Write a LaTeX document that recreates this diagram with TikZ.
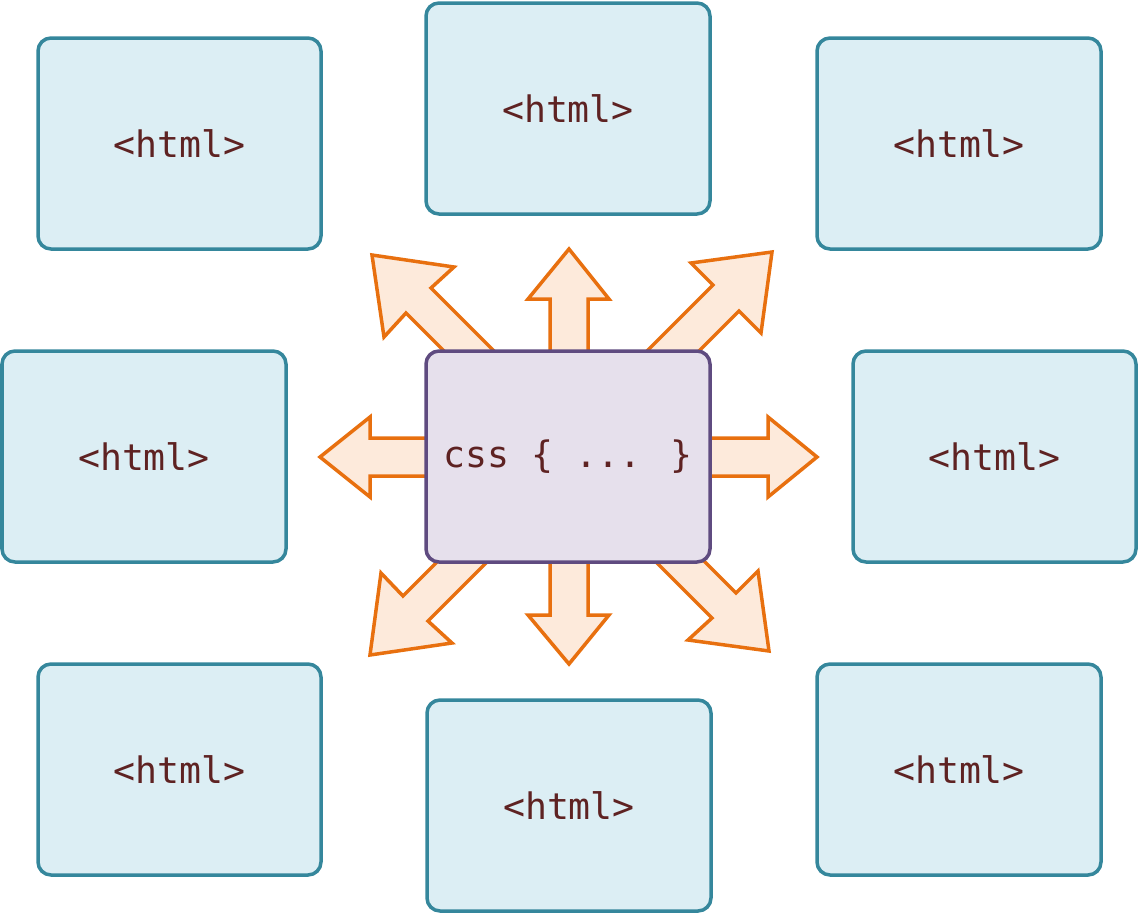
\documentclass[tikz,border=0pt]{standalone}
\usepackage{fontspec}
\newfontfamily\monofont{DejaVu Sans Mono}
\definecolor{boxfill}{HTML}{DCEEF4}
\definecolor{boxline}{HTML}{35879C}
\definecolor{cfill}{HTML}{E6E0EC}
\definecolor{cline}{HTML}{5F4B80}
\definecolor{afill}{HTML}{FDEADB}
\definecolor{aline}{HTML}{E8700F}
\definecolor{txt}{HTML}{5E2222}
\begin{document}
\begin{tikzpicture}[x=1pt,y=-1pt,
  htmlbox/.style={draw=boxline,fill=boxfill,line width=3.5pt,rounded corners=13pt,
    minimum width=283pt,minimum height=211pt,inner sep=0pt,
    font=\monofont\fontsize{36.5}{40}\selectfont,text=txt},
  cssbox/.style={htmlbox,draw=cline,fill=cfill,minimum width=284pt},
  blockarrow/.style={draw=aline,fill=afill,line width=3.5pt,line join=miter}]
\useasboundingbox (0,0) rectangle (1138,914);
% arrows (drawn first; the centre box covers their bases)
\draw[blockarrow] (569,249) -- (609,299) -- (588,299) -- (588,380) -- (550,380) -- (550,299) -- (528,299) -- cycle;
\draw[blockarrow] (569,664) -- (609,615) -- (588,615) -- (588,530) -- (550,530) -- (550,615) -- (528,615) -- cycle;
\draw[blockarrow] (320,457) -- (370,417) -- (370,438) -- (460,438) -- (460,476) -- (370,476) -- (370,497) -- cycle;
\draw[blockarrow] (817,457) -- (768,417) -- (768,438) -- (680,438) -- (680,476) -- (768,476) -- (768,497) -- cycle;
\draw[blockarrow] (372,255) -- (454,267) -- (431,288) -- (523,380) -- (473,380) -- (406,313) -- (384,337) -- cycle;
\draw[blockarrow] (772,252) -- (691,263) -- (713,285) -- (618,380) -- (670,380) -- (739,311) -- (761,333) -- cycle;
\draw[blockarrow] (370,655) -- (452,643) -- (428,621) -- (519,530) -- (469,530) -- (403,596) -- (381,573) -- cycle;
\draw[blockarrow] (769,651) -- (688,640) -- (712,618) -- (624,530) -- (673,530) -- (736,593) -- (758,571) -- cycle;
% boxes
\node[htmlbox] (tl) at (179.5,143.5) {<html>};
\node[htmlbox,minimum width=284pt] (tc) at (568,108.5) {<html>};
\node[htmlbox,minimum width=284pt] (tr) at (959,143.5) {<html>};
\node[htmlbox,minimum width=284pt] (ml) at (144,456.5) {<html>};
\node[cssbox] (c) at (568,456.5) {css \{ ... \}};
\node[htmlbox] (mr) at (994.5,456.5) {<html>};
\node[htmlbox] (bl) at (179.5,769.5) {<html>};
\node[htmlbox,minimum width=284pt] (bc) at (569,805.5) {<html>};
\node[htmlbox,minimum width=284pt] (br) at (959,769.5) {<html>};
\end{tikzpicture}
\end{document}
